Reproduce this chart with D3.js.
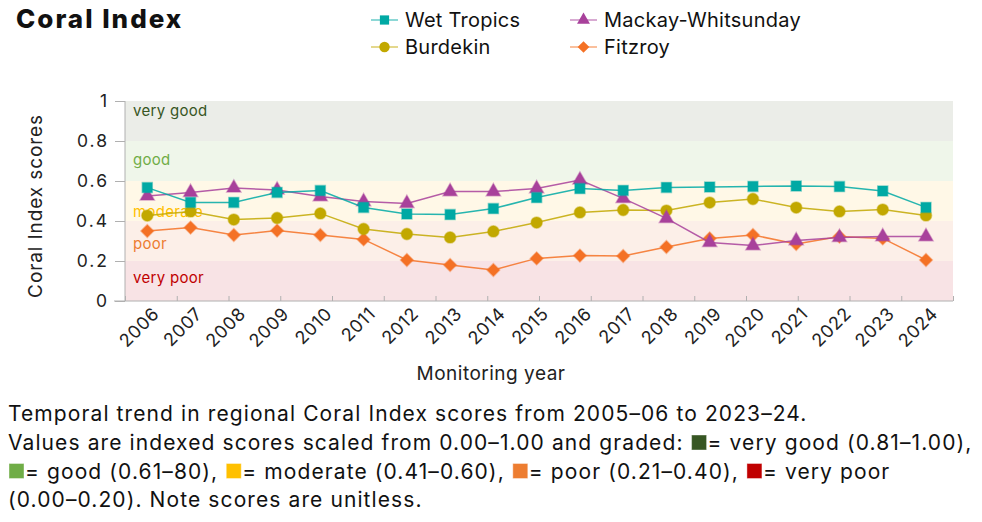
<!DOCTYPE html>
<html><head><meta charset="utf-8">
<script src="https://cdn.jsdelivr.net/npm/d3@7"></script>
<style>
html,body{margin:0;padding:0;background:#fff;}
svg{display:block;font-family:Inter, "Noto Sans", sans-serif;}
</style></head>
<body>
<svg id="c" width="982" height="522"></svg>
<script>
// ---------- data ----------
const years = ["2006","2007","2008","2009","2010","2011","2012","2013","2014","2015","2016","2017","2018","2019","2020","2021","2022","2023","2024"];
const wetTropics = [0.567,0.493,0.493,0.543,0.552,0.468,0.435,0.432,0.462,0.517,0.562,0.553,0.568,0.570,0.573,0.575,0.572,0.550,0.468];
const burdekin = [0.427,0.448,0.407,0.415,0.438,0.360,0.335,0.318,0.348,0.392,0.443,0.455,0.452,0.492,0.510,0.467,0.448,0.457,0.428];
const mackayWhitsunday = [0.525,0.543,0.565,0.555,0.522,0.497,0.488,0.547,0.547,0.562,0.605,0.513,0.413,0.293,0.277,0.302,0.318,0.322,0.322];
const fitzroy = [0.350,0.367,0.330,0.352,0.330,0.308,0.205,0.180,0.155,0.213,0.227,0.225,0.270,0.313,0.330,0.285,0.322,0.313,0.205];
const seriesNames = ["Wet Tropics","Burdekin","Mackay-Whitsunday","Fitzroy"];
const yTicks = [0,0.2,0.4,0.6,0.8,1];
const bandLabels = ["very good","good","moderate","poor","very poor"];
const bandBounds = [[0.8,1],[0.6,0.8],[0.4,0.6],[0.2,0.4],[0,0.2]];
const captionLines = [
  [{t:"Temporal trend in regional Coral Index scores from 2005–06 to 2023–24."}],
  [{t:"Values are indexed scores scaled from 0.00–1.00 and graded: "},{s:0},{t:"= very good (0.81–1.00),"}],
  [{s:1},{t:"= good (0.61–80), "},{s:2},{t:"= moderate (0.41–0.60), "},{s:3},{t:"= poor (0.21–0.40), "},{s:4},{t:"= very poor"}],
  [{t:"(0.00–0.20). Note scores are unitless."}]
];

// ---------- styles / layout ----------
const seriesColors = {"Wet Tropics":"#00a9a4","Burdekin":"#c2a800","Mackay-Whitsunday":"#a8419b","Fitzroy":"#f47125"};
const seriesSymbols = {"Wet Tropics":d3.symbolSquare,"Burdekin":d3.symbolCircle,"Mackay-Whitsunday":d3.symbolTriangle,"Fitzroy":d3.symbolSquare};
const seriesSizes = {"Wet Tropics":100,"Burdekin":100,"Mackay-Whitsunday":85,"Fitzroy":80};
const seriesRot = {"Wet Tropics":0,"Burdekin":0,"Mackay-Whitsunday":0,"Fitzroy":45};
const bandFill = ["#ebede8","#eff6ea","#fff8e7","#fcefe8","#f8e3e5"];
const bandText = ["#375623","#70ad47","#ffc000","#ed7d31","#c00000"];
const bandLabelAt = [0.925,0.68,0.42,0.26,0.09];
const swatch = ["#375623","#70ad47","#ffc000","#ed7d31","#c00000"];
const seriesData = {"Wet Tropics":wetTropics,"Burdekin":burdekin,"Mackay-Whitsunday":mackayWhitsunday,"Fitzroy":fitzroy};

const svg = d3.select("#c");
const L = 125, R = 953, T = 101, B = 301;
const x = d3.scalePoint().domain(years).range([147.3, 926]);
const xt = d3.scaleLinear().domain([0,16]).range([L,R]);
const y = d3.scaleLinear().domain([0,1]).range([B,T]);

// title
svg.append("text").attr("x",16).attr("y",28).attr("font-size",26).attr("font-weight",800)
  .attr("letter-spacing",2).attr("fill","#111").text("Coral Index");

// bands
svg.append("g").selectAll("rect").data(bandBounds).join("rect")
  .attr("x",L).attr("width",R-L)
  .attr("y",d=>y(d[1])).attr("height",d=>y(d[0])-y(d[1]))
  .attr("fill",(d,i)=>bandFill[i]);
svg.append("g").selectAll("text").data(bandLabels).join("text")
  .attr("x",133).attr("y",(d,i)=>y(bandLabelAt[i]))
  .attr("font-size",15).attr("letter-spacing",0.3).attr("fill",(d,i)=>bandText[i])
  .text(d=>d);

// y axis
const ya = svg.append("g").attr("transform",`translate(${L},0)`)
  .call(d3.axisLeft(y).tickValues(yTicks).tickSize(10).tickPadding(6).tickFormat(d=>d===0?"0":d===1?"1":d3.format(".1f")(d)));
ya.select(".domain").attr("stroke","#b0b0b0").attr("d",`M0,${T}V${B}`);
ya.selectAll(".tick line").attr("stroke","#b0b0b0");
ya.selectAll(".tick text").attr("font-size",17.5).attr("letter-spacing",2).attr("fill","#222").attr("font-family","Inter");

// x axis ticks
const xa = svg.append("g").attr("transform",`translate(0,${B})`)
  .call(d3.axisBottom(xt).ticks(16).tickSize(-5).tickFormat(""));
xa.select(".domain").attr("stroke","#b0b0b0").attr("d",`M${L-11},0H${R}`);
xa.selectAll(".tick line").attr("stroke","#b0b0b0");

// x labels
svg.append("g").selectAll("text").data(years).join("text")
  .attr("transform",d=>`translate(${x(d)+4},${B+5}) rotate(-45)`)
  .attr("text-anchor","end").attr("dy","0.7em").attr("font-size",18).attr("letter-spacing",0.6).attr("fill","#222").text(d=>d);

// axis titles
svg.append("text").attr("transform",`translate(42,${(T+B)/2+5}) rotate(-90)`).attr("text-anchor","middle")
  .attr("font-size",19).attr("letter-spacing",0.9).attr("fill","#222").text("Coral Index scores");
svg.append("text").attr("x",491).attr("y",380).attr("text-anchor","middle").attr("font-size",19)
  .attr("letter-spacing",0.5).attr("fill","#222").text("Monitoring year");

// series
const line = d3.line().x((d,i)=>x(years[i])).y(d=>y(d));
const drawOrder = ["Fitzroy","Burdekin","Mackay-Whitsunday","Wet Tropics"];
drawOrder.forEach(name=>{
  const g = svg.append("g");
  const vals = seriesData[name];
  g.append("path").datum(vals).attr("d",line).attr("fill","none")
    .attr("stroke",seriesColors[name]).attr("stroke-width",1.5).attr("stroke-opacity",0.85);
  g.selectAll("path.m").data(vals).join("path").attr("class","m")
    .attr("d",d3.symbol().type(seriesSymbols[name]).size(seriesSizes[name]))
    .attr("transform",(d,i)=>`translate(${x(years[i])},${y(d)}) rotate(${seriesRot[name]})`)
    .attr("fill",seriesColors[name]).attr("stroke",seriesColors[name]).attr("stroke-opacity",0.45).attr("stroke-width",1.5);
});

// legend
const legPos = {"Wet Tropics":[371,20],"Burdekin":[371,47],"Mackay-Whitsunday":[570,20],"Fitzroy":[570,47]};
seriesNames.forEach(name=>{
  const [lx,ly] = legPos[name];
  const g = svg.append("g").attr("transform",`translate(${lx},${ly})`);
  g.append("line").attr("x1",0).attr("x2",27).attr("stroke",seriesColors[name]).attr("stroke-width",1.5).attr("stroke-opacity",0.6);
  g.append("path").attr("d",d3.symbol().type(seriesSymbols[name]).size(seriesSizes[name]*0.85))
    .attr("transform",`translate(13.5,0) rotate(${seriesRot[name]})`).attr("fill",seriesColors[name]);
  g.append("text").attr("x",34).attr("y",7).attr("font-size",20).attr("letter-spacing",0.25).attr("fill","#111").text(name);
});

// caption
const capY = [421,450,478.5,507];
captionLines.forEach((segs,li)=>{
  let cx = 8;
  segs.forEach(s=>{
    if (s.t!==undefined){
      const t = svg.append("text").attr("x",cx).attr("y",capY[li]).attr("font-size",21).attr("letter-spacing",1.1).attr("fill","#111")
        .attr("xml:space","preserve").style("white-space","pre").text(s.t);
      cx += t.node().getComputedTextLength();
    } else {
      svg.append("rect").attr("x",cx+1).attr("y",capY[li]-15).attr("width",15).attr("height",15)
        .attr("fill",swatch[s.s]).attr("stroke","#fff").attr("stroke-opacity",0.4);
      cx += 17;
    }
  });
});
</script>
</body></html>
